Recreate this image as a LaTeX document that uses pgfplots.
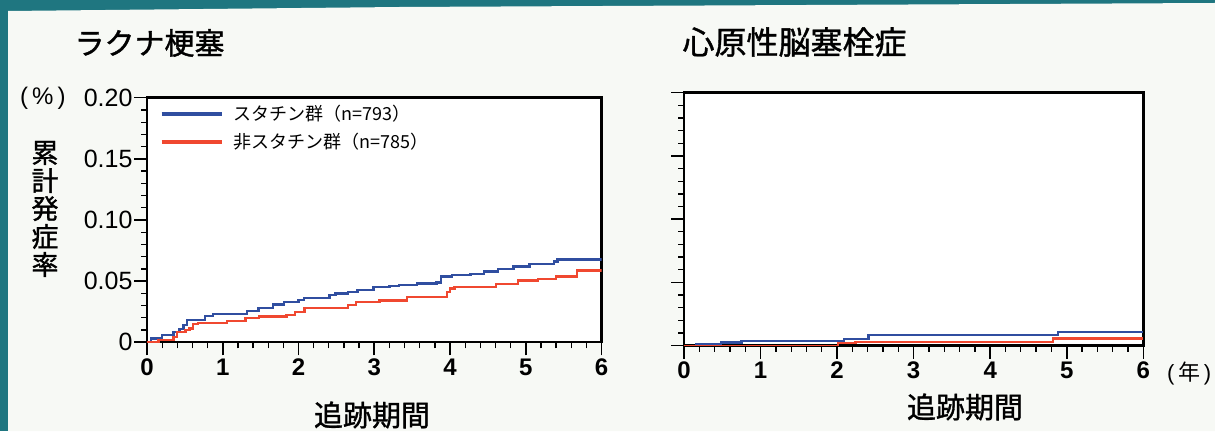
\documentclass[border=0pt]{standalone}
\usepackage{fontspec}
\usepackage{pgfplots}
\pgfplotsset{compat=1.18}
\setmainfont{Liberation Sans}
\newfontfamily\cjk{Noto Sans CJK JP}
\newfontfamily\cjkm[FakeBold=1.2]{Noto Sans CJK JP}
\definecolor{teal1}{RGB}{31,118,128}
\definecolor{bg}{RGB}{247,249,245}
\definecolor{kmblue}{RGB}{48,78,160}
\definecolor{kmred}{RGB}{240,72,48}

\pgfplotstableread{
t v
0 0
0.05 0.003
0.20 0.006
0.35 0.0087
0.43 0.011
0.48 0.014
0.53 0.018
0.77 0.0215
0.87 0.023
1.32 0.0256
1.47 0.028
1.66 0.031
1.81 0.0327
2.00 0.0346
2.07 0.0365
2.41 0.0384
2.49 0.0400
2.65 0.0414
2.78 0.0428
2.99 0.0450
3.20 0.0463
3.33 0.0469
3.56 0.0480
3.82 0.0490
3.88 0.0537
4.03 0.0553
4.27 0.0559
4.45 0.0578
4.63 0.0600
4.84 0.0619
5.05 0.0638
5.37 0.0660
5.42 0.0676
6.00 0.0676
}\lacunarblue

\pgfplotstableread{
t v
0 0
0.15 0.0019
0.35 0.0046
0.40 0.0087
0.51 0.0100
0.56 0.0114
0.61 0.0150
0.67 0.0160
1.06 0.0177
1.30 0.0196
1.48 0.0210
1.84 0.0223
1.95 0.0250
2.08 0.0278
2.65 0.0305
2.76 0.0330
3.07 0.0342
3.43 0.0370
3.96 0.0410
4.00 0.0440
4.06 0.0452
4.61 0.0475
4.90 0.0505
5.16 0.0520
5.40 0.0537
5.68 0.0586
6.00 0.0586
}\lacunarred

\pgfplotstableread{
t v
0 0
0.16 0.0013
0.48 0.0026
0.75 0.0038
2.09 0.0053
2.41 0.0084
4.89 0.0110
6.00 0.0110
}\cardioblue

\pgfplotstableread{
t v
0 0
2.01 0.0019
2.24 0.0032
4.82 0.0058
6.00 0.0058
}\cardiored

\pgfplotsset{
  km/.style={
    scale only axis,
    xmin=0, xmax=6, ymin=0, ymax=0.2,
    xtick={0,1,2,3,4,5,6},
    ytick={0,0.05,0.1,0.15,0.2},
    minor x tick num=4, minor y tick num=4,
    tick align=outside,
    xtick pos=left, ytick pos=left,
    major tick length=13pt, minor tick length=6pt,
    every major tick/.style={black, line width=1.6pt},
    every minor tick/.style={black, line width=1.3pt},
    axis line style={line width=2.4pt, black},
    axis background/.style={fill=white},
    scaled y ticks=false,
    /pgf/number format/assume math mode=true,
    xticklabel style={font=\fontsize{24}{24}\selectfont\bfseries},
    yticklabel style={font=\fontsize{25}{25}\selectfont, xshift=2pt},
  },
  kmline/.style={const plot, no markers, line width=2.3pt},
}

\begin{document}
\begin{tikzpicture}[x=1pt,y=1pt]
\useasboundingbox (0,0) rectangle (1215,431);
\fill[teal1] (0,0) rectangle (1215,431);
\fill[bg] (8,0) -- (8,420) -- (400,424) -- (1215,428) -- (1215,0) -- cycle;

\begin{axis}[km,
  at={(147pt,88.7pt)}, anchor=south west,
  width=454.5pt, height=244.6pt,
  yticklabels={0,0.05,0.10,0.15,0.20},
  legend style={at={(0.02,0.985)}, anchor=north west, draw=none, fill=none,
    font=\cjk\fontsize{18}{20}\selectfont, row sep=7pt,
    /tikz/every odd column/.append style={column sep=8pt}},
  legend cell align=left,
  legend image code/.code={\draw[#1, line width=4.5pt] (0pt,0pt) -- (60pt,0pt);},
]
\addplot[kmline, kmblue] table[x=t, y=v] {\lacunarblue};
\addlegendentry{スタチン群（n=793）}
\addplot[kmline, kmred] table[x=t, y=v] {\lacunarred};
\addlegendentry{非スタチン群（n=785）}
\end{axis}

\begin{axis}[km,
  at={(684pt,85.3pt)}, anchor=south west,
  width=459.3pt, height=253pt,
  yticklabels={},
]
\addplot[kmline, kmblue] table[x=t, y=v] {\cardioblue};
\addplot[kmline, kmred] table[x=t, y=v] {\cardiored};
\end{axis}

\node[font=\cjkm\fontsize{30}{30}\selectfont, anchor=west] at (71,388) {ラクナ梗塞};
\node[font=\cjkm\fontsize{32}{32}\selectfont, anchor=west] at (679,389) {心原性脳塞栓症};
\node[font=\cjkm\fontsize{29}{29}\selectfont] at (372,16) {追跡期間};
\node[font=\cjkm\fontsize{29}{29}\selectfont] at (965,24) {追跡期間};
\node[font=\cjkm\fontsize{27}{28}\selectfont, align=center] at (45,222) {累\\計\\発\\症\\率};
\node[font=\fontsize{24}{24}\selectfont, anchor=west, inner sep=0pt] at (20,333) {(\,\%\,)};
\node[font=\fontsize{22}{22}\selectfont, anchor=west, inner sep=0pt] at (1167,58) {(\,{\cjk 年}\,)};
\end{tikzpicture}
\end{document}
